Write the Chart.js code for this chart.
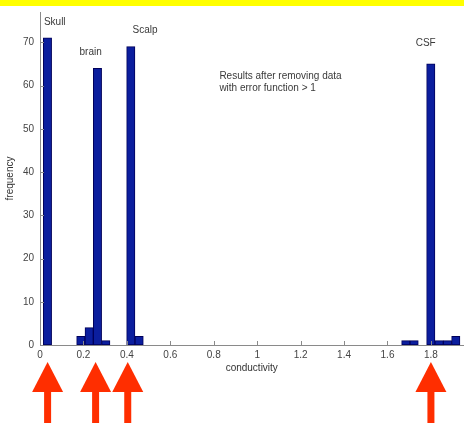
<!DOCTYPE html>
<html>
<head>
<meta charset="utf-8">
<script src="https://cdn.jsdelivr.net/npm/chart.js@4.4.1/dist/chart.umd.min.js"></script>
<style>
  html, body { margin: 0; padding: 0; background: #ffffff; }
  #wrap { position: relative; width: 464px; height: 423px; overflow: hidden; }
  #band { position: absolute; left: 0; top: 0; width: 464px; height: 6px; background: #ffff00; }
  canvas { position: absolute; left: 0; top: 0; }
</style>
</head>
<body>
<div id="wrap">
  <canvas id="c" width="464" height="423"></canvas>
  <div id="band"></div>
</div>
<script>
// Histogram bins (bin centres, conductivity) that have non-zero counts
const binCenters = [0.0344, 0.1879, 0.2263, 0.2646, 0.3030, 0.4181, 0.4565, 1.6843, 1.7227, 1.7994, 1.8378, 1.8762, 1.9145];
const frequencies = [71, 2, 4, 64, 1, 69, 2, 1, 1, 65, 1, 1, 2];

const xTicks = [0, 0.2, 0.4, 0.6, 0.8, 1, 1.2, 1.4, 1.6, 1.8];
const yTicks = [0, 10, 20, 30, 40, 50, 60, 70];

// Annotation labels (in data coordinates)
const labelTexts = ['Skull', 'brain', 'Scalp', 'CSF', 'Results after removing data', 'with error function > 1'];
const labelX = [0.018, 0.182, 0.426, 1.73, 0.826, 0.826];
const labelY = [74.6, 67.8, 72.8, 69.8, 62.1, 59.4];

// Red arrows pointing at the peaks (conductivity values)
const arrowX = [0.035, 0.256, 0.404, 1.80];

const points = binCenters.map((x, i) => ({ x: x, y: frequencies[i] }));

const overlay = {
  id: 'overlay',
  afterDraw(chart) {
    const ctx = chart.ctx;
    const xs = chart.scales.x, ys = chart.scales.y;
    const area = chart.chartArea;
    ctx.save();
    // inward tick marks
    ctx.strokeStyle = '#8a8a8a';
    ctx.lineWidth = 1;
    xTicks.forEach(v => {
      const px = Math.round(xs.getPixelForValue(v)) + 0.5;
      ctx.beginPath(); ctx.moveTo(px, area.bottom); ctx.lineTo(px, area.bottom - 4); ctx.stroke();
    });
    yTicks.forEach(v => {
      const py = Math.round(ys.getPixelForValue(v)) + 0.5;
      ctx.beginPath(); ctx.moveTo(area.left, py); ctx.lineTo(area.left + 4, py); ctx.stroke();
    });
    // text annotations
    ctx.fillStyle = '#3a3a3a';
    ctx.font = '10px "Liberation Sans", Arial, sans-serif';
    ctx.textAlign = 'left';
    ctx.textBaseline = 'middle';
    labelTexts.forEach((t, i) => {
      ctx.fillText(t, xs.getPixelForValue(labelX[i]), ys.getPixelForValue(labelY[i]));
    });
    // red arrows
    ctx.fillStyle = '#ff2e00';
    arrowX.forEach(v => {
      const px = xs.getPixelForValue(v);
      ctx.beginPath();
      ctx.moveTo(px, 362);
      ctx.lineTo(px + 15.5, 392);
      ctx.lineTo(px - 15.5, 392);
      ctx.closePath();
      ctx.fill();
      ctx.fillRect(px - 3.5, 391, 7, 32);
    });
    ctx.restore();
  }
};

new Chart(document.getElementById('c'), {
  type: 'bar',
  data: {
    datasets: [{
      data: points,
      backgroundColor: '#0b1e9e',
      borderColor: '#00005a',
      borderWidth: 1,
      borderSkipped: false,
      barPercentage: 1.0,
      categoryPercentage: 1.0
    }]
  },
  options: {
    responsive: false,
    animation: false,
    events: [],
    layout: { padding: { top: 6, right: 0.5, bottom: 48, left: 0 } },
    plugins: { legend: { display: false }, tooltip: { enabled: false } },
    scales: {
      x: {
        type: 'linear',
        offset: false,
        min: 0,
        max: 1.95,
        afterBuildTicks: s => { s.ticks = xTicks.map(v => ({ value: v })); },
        afterFit: s => { s.height = 30; },
        grid: { display: false, drawTicks: false, offset: false },
        border: { display: true, color: '#8a8a8a', width: 1 },
        ticks: {
          autoSkip: false, maxRotation: 0, padding: 4,
          color: '#444444',
          font: { family: '"Liberation Sans", Arial, sans-serif', size: 10 },
          callback: v => String(v)
        },
        title: {
          display: true, text: 'conductivity', color: '#333333',
          font: { family: '"Liberation Sans", Arial, sans-serif', size: 10 },
          padding: { top: 0, bottom: 1 }
        }
      },
      y: {
        type: 'linear',
        min: 0,
        max: 77,
        afterBuildTicks: s => { s.ticks = yTicks.map(v => ({ value: v })); },
        afterFit: s => { s.width = 40; },
        grid: { display: false, drawTicks: false },
        border: { display: true, color: '#8a8a8a', width: 1 },
        ticks: {
          padding: 6,
          color: '#444444',
          font: { family: '"Liberation Sans", Arial, sans-serif', size: 10 }
        },
        title: {
          display: true, text: 'frequency', color: '#333333',
          font: { family: '"Liberation Sans", Arial, sans-serif', size: 10 },
          padding: { top: 4, bottom: 0 }
        }
      }
    }
  },
  plugins: [overlay]
});
</script>
</body>
</html>
